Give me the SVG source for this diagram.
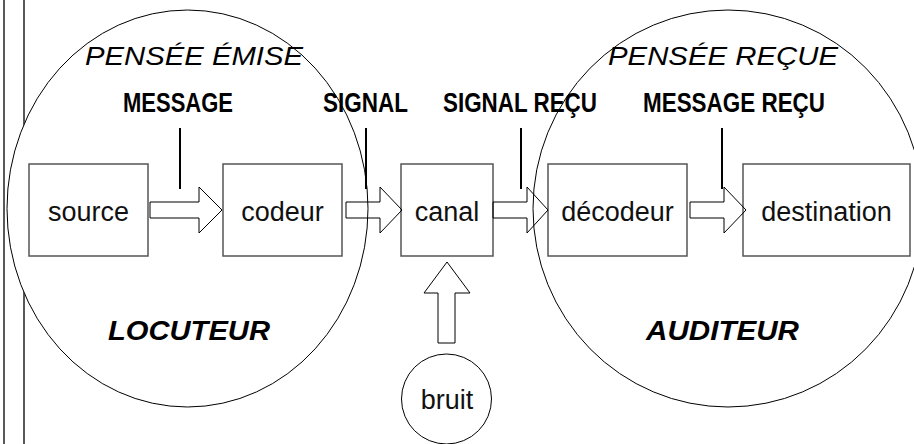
<svg xmlns="http://www.w3.org/2000/svg" width="914" height="444" viewBox="0 0 914 444">
  <style>
    .rule { stroke: #222; stroke-width: 1.5; fill: none; }
    .zone { fill: #fff; stroke: #000; stroke-width: 1; }
    .box { fill: #fff; stroke: #555; stroke-width: 1.5; }
    .arrow { fill: none; stroke: #000; stroke-width: 1; stroke-linejoin: miter; }
    .tick { stroke: #000; stroke-width: 2; }
    .node { font-family: "Liberation Sans", Arial, sans-serif; font-size: 27px; fill: #111; text-anchor: middle; }
    .label { font-family: "Liberation Sans Narrow", "Liberation Sans", Arial, sans-serif; font-weight: bold; font-size: 27.5px; fill: #000; text-anchor: middle; }
    .thought { font-family: "Liberation Sans", Arial, sans-serif; font-style: italic; font-size: 26px; fill: #000; text-anchor: middle; }
    .role { font-family: "Liberation Sans", Arial, sans-serif; font-style: italic; font-weight: bold; font-size: 27px; fill: #000; text-anchor: middle; }
  </style>

  <!-- page margin rules -->
  <line class="rule" x1="4" y1="0" x2="4" y2="444"/>
  <line class="rule" x1="24" y1="0" x2="24" y2="444"/>

  <!-- speaker / listener zones -->
  <g id="zone-locuteur">
    <ellipse class="zone" cx="187.5" cy="208.5" rx="180.5" ry="198.5"/>
  </g>
  <g id="zone-auditeur">
    <ellipse class="zone" cx="728" cy="208.5" rx="195" ry="198.5"/>
  </g>

  <text class="thought" x="194" y="65" textLength="218" lengthAdjust="spacingAndGlyphs">PENSÉE ÉMISE</text>
  <text class="thought" x="723" y="65" textLength="230" lengthAdjust="spacingAndGlyphs">PENSÉE REÇUE</text>
  <text class="role" x="189" y="340" textLength="162" lengthAdjust="spacingAndGlyphs">LOCUTEUR</text>
  <text class="role" x="722.5" y="340" textLength="153" lengthAdjust="spacingAndGlyphs">AUDITEUR</text>

  <!-- nodes -->
  <g id="source">
    <rect class="box" x="29" y="164" width="119" height="92"/>
    <text class="node" x="88.5" y="221">source</text>
  </g>
  <g id="codeur">
    <rect class="box" x="223" y="164" width="119" height="92"/>
    <text class="node" x="282.5" y="221">codeur</text>
  </g>
  <g id="canal">
    <rect class="box" x="401" y="164" width="92" height="92"/>
    <text class="node" x="447" y="221">canal</text>
  </g>
  <g id="decodeur">
    <rect class="box" x="548" y="164" width="139" height="92"/>
    <text class="node" x="617.5" y="221">décodeur</text>
  </g>
  <g id="destination">
    <rect class="box" x="743" y="164" width="167" height="92"/>
    <text class="node" x="826.5" y="221">destination</text>
  </g>
  <g id="bruit">
    <circle class="zone" cx="446.5" cy="399" r="45"/>
    <text class="node" x="447" y="409">bruit</text>
  </g>

  <!-- block arrows between stages -->
  <g id="connectors">
    <polygon class="arrow" points="150,202 199,202 199,187 222,210 199,233 199,218 150,218"/>
    <polygon class="arrow" points="346,202 380,202 380,187 402,210 380,233 380,218 346,218"/>
    <polygon class="arrow" points="493,202 527,202 527,187 548,210 527,233 527,218 493,218"/>
    <polygon class="arrow" points="690,202 724,202 724,187 746,210 724,233 724,218 690,218"/>
    <polygon class="arrow" points="438,343 438,293 424,293 447,262 470,293 455,293 455,343"/>
  </g>

  <!-- signal labels with their pointers -->
  <g id="labels">
    <line class="tick" x1="180" y1="128" x2="180" y2="189"/>
    <line class="tick" x1="366" y1="128" x2="366" y2="189"/>
    <line class="tick" x1="521" y1="128" x2="521" y2="189"/>
    <line class="tick" x1="722" y1="128" x2="722" y2="189"/>
    <text class="label" x="178" y="112" textLength="110" lengthAdjust="spacingAndGlyphs">MESSAGE</text>
    <text class="label" x="365.5" y="112" textLength="85" lengthAdjust="spacingAndGlyphs">SIGNAL</text>
    <text class="label" x="520" y="112" textLength="154" lengthAdjust="spacingAndGlyphs">SIGNAL REÇU</text>
    <text class="label" x="734" y="112" textLength="182" lengthAdjust="spacingAndGlyphs">MESSAGE REÇU</text>
  </g>
</svg>
